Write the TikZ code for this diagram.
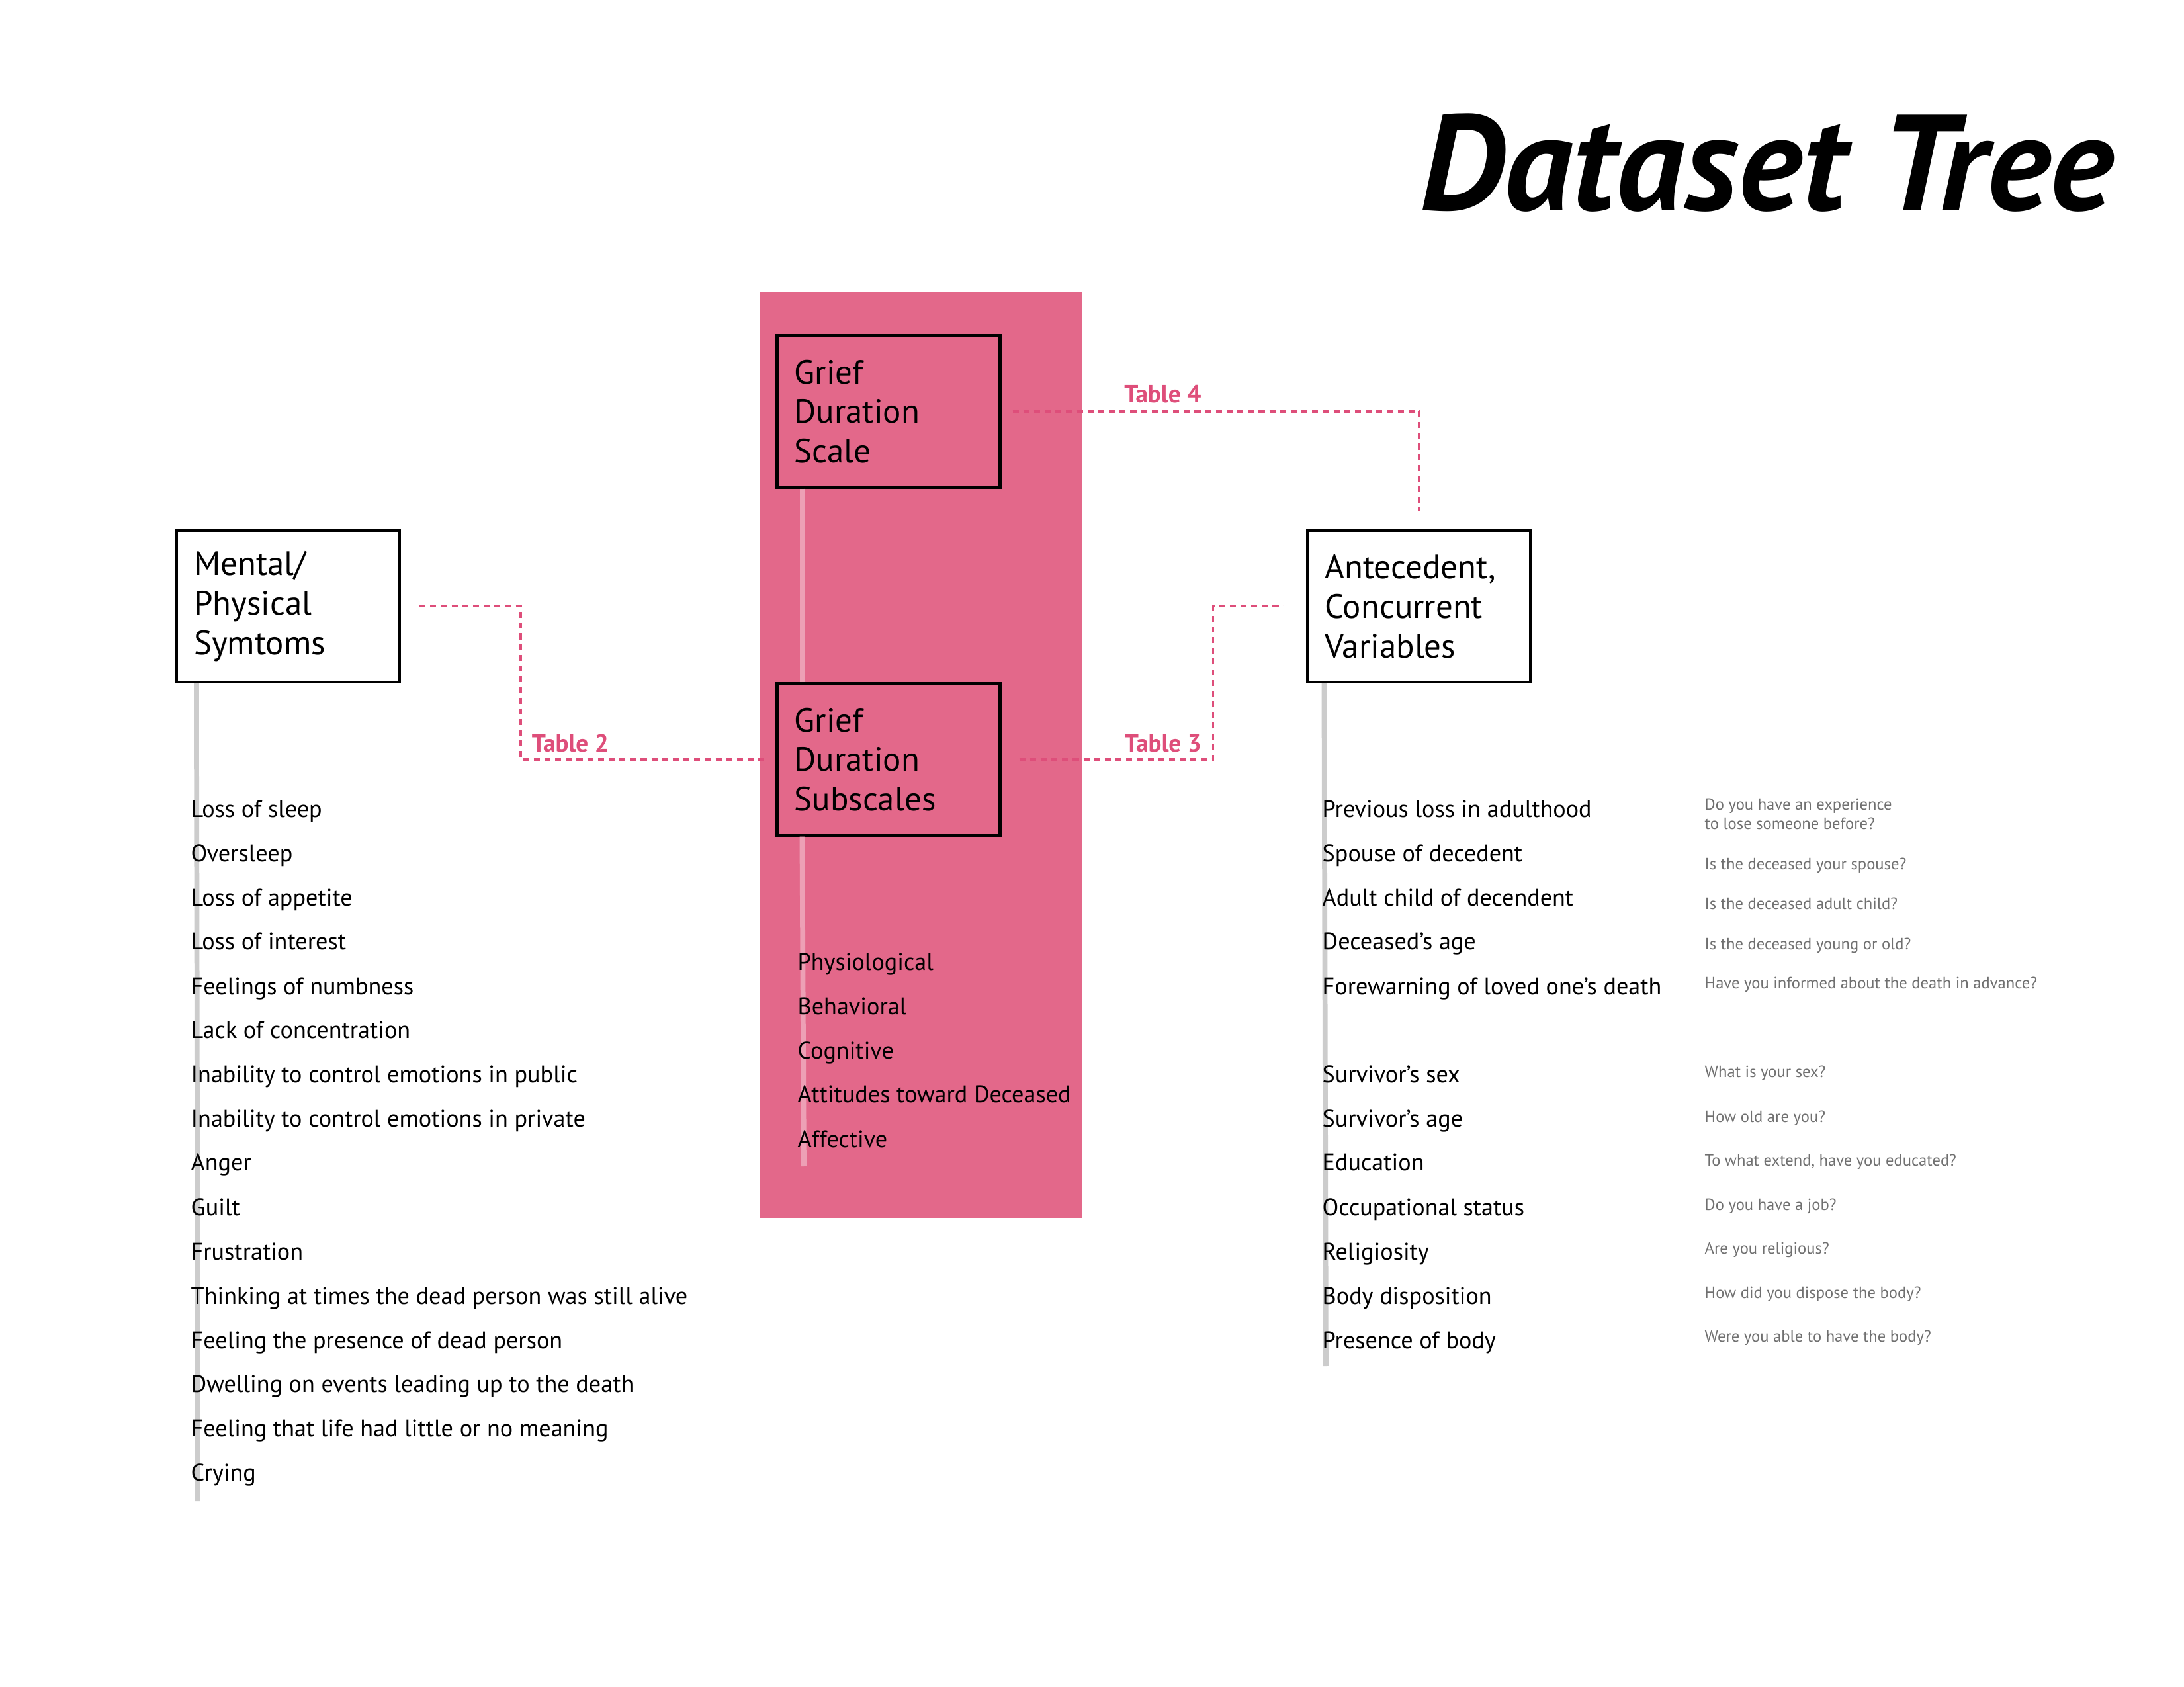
\documentclass[tikz,border=0pt]{standalone}
\usepackage{fontspec}
\setmainfont{PT Sans}
\usepackage{tikz}

\definecolor{panelpink}{RGB}{227,104,138}
\definecolor{linkpink}{RGB}{222,78,122}
\definecolor{trunkgray}{RGB}{204,204,204}
\definecolor{trunkpink}{RGB}{237,160,181}
\definecolor{qgray}{RGB}{112,112,112}

\begin{document}
\begin{tikzpicture}[
    groupbox/.style={
        draw, line width=1.2pt, minimum width=3.37cm, minimum height=2.29cm,
        text width=2.85cm, inner xsep=0.26cm, align=left,
        font=\fontsize{14.5}{17}\selectfont
    },
    item/.style={anchor=base west, inner sep=0pt, font=\fontsize{10.3}{12}\selectfont},
    question/.style={anchor=base west, inner sep=0pt, text=qgray, align=left,
        font=\fontsize{7}{8.3}\selectfont},
    tablelink/.style={draw=linkpink, line width=0.95pt, dash pattern=on 2.6pt off 2pt},
    tablelabel/.style={text=linkpink, inner sep=0pt, font=\bfseries\fontsize{10.6}{12}\selectfont},
    trunk/.style={draw=trunkgray, line width=2.2pt}
]

\useasboundingbox (0,0) rectangle (33.01,-25.50);

% Title
\node[font=\bfseries\itshape\fontsize{58.4}{66}\selectfont, anchor=base east, inner sep=0pt]
    (title) at (31.95,-3.18) {Dataset Tree};

% -------------------------
% Grief Duration panel (pink backdrop)
% -------------------------
\node[fill=panelpink, minimum width=4.87cm, minimum height=14.0cm, inner sep=0pt,
    anchor=north west] (panel) at (11.47,-4.40) {};

% -------------------------
% Group boxes
% -------------------------

% 1. Grief Duration Scale (top, in panel)
\node[groupbox] (scale) at (13.43,-6.22) {Grief\\Duration\\Scale};

% 2. Grief Duration Subscales (in panel)
\node[groupbox] (subscales) at (13.43,-11.48) {Grief\\Duration\\Subscales};

% 3. Mental / Physical Symtoms (left)
\node[groupbox] (symptoms) at (4.355,-9.165) {Mental/\\Physical\\Symtoms};

% 4. Antecedent, Concurrent Variables (right)
\node[groupbox] (antecedent) at (21.45,-9.165) {Antecedent,\\Concurrent\\Variables};

% -------------------------
% Tree trunks
% -------------------------
\coordinate (symend) at (2.99,-22.69);
\coordinate (subend) at (12.15,-17.63);
\coordinate (anteend) at (20.04,-20.65);

\draw[trunk] ([xshift=0.32cm]symptoms.south west) -- (symend);
\draw[trunk, draw=trunkpink] ([xshift=0.40cm]scale.south west) -- ([xshift=0.40cm]subscales.north west);
\draw[trunk, draw=trunkpink] ([xshift=0.40cm]subscales.south west) -- (subend);
\draw[trunk] ([xshift=0.27cm]antecedent.south west) -- (anteend);

% -------------------------
% Symptom list (left)
% -------------------------
\node[item] (sym1)  at (2.88,-12.36) {Loss of sleep};
\node[item] (sym2)  at (2.88,-13.03) {Oversleep};
\node[item] (sym3)  at (2.88,-13.70) {Loss of appetite};
\node[item] (sym4)  at (2.88,-14.36) {Loss of interest};
\node[item] (sym5)  at (2.88,-15.03) {Feelings of numbness};
\node[item] (sym6)  at (2.88,-15.70) {Lack of concentration};
\node[item] (sym7)  at (2.88,-16.37) {Inability to control emotions in public};
\node[item] (sym8)  at (2.88,-17.04) {Inability to control emotions in private};
\node[item] (sym9)  at (2.88,-17.70) {Anger};
\node[item] (sym10) at (2.88,-18.37) {Guilt};
\node[item] (sym11) at (2.88,-19.04) {Frustration};
\node[item] (sym12) at (2.88,-19.71) {Thinking at times the dead person was still alive};
\node[item] (sym13) at (2.88,-20.38) {Feeling the presence of dead person};
\node[item] (sym14) at (2.88,-21.04) {Dwelling on events leading up to the death};
\node[item] (sym15) at (2.88,-21.71) {Feeling that life had little or no meaning};
\node[item] (sym16) at (2.88,-22.38) {Crying};

% -------------------------
% Subscales (in panel)
% -------------------------
\node[item] (sub1) at (12.05,-14.67) {Physiological};
\node[item] (sub2) at (12.05,-15.34) {Behavioral};
\node[item] (sub3) at (12.05,-16.01) {Cognitive};
\node[item] (sub4) at (12.05,-16.67) {Attitudes toward Deceased};
\node[item] (sub5) at (12.05,-17.34) {Affective};

% -------------------------
% Variables (right) and their questions
% -------------------------
\node[item] (ante1)  at (19.98,-12.36) {Previous loss in adulthood};
\node[item] (ante2)  at (19.98,-13.03) {Spouse of decedent};
\node[item] (ante3)  at (19.98,-13.70) {Adult child of decendent};
\node[item] (ante4)  at (19.98,-14.36) {Deceased’s age};
\node[item] (ante5)  at (19.98,-15.03) {Forewarning of loved one’s death};
\node[item] (ante6)  at (19.98,-16.37) {Survivor’s sex};
\node[item] (ante7)  at (19.98,-17.04) {Survivor’s age};
\node[item] (ante8)  at (19.98,-17.70) {Education};
\node[item] (ante9)  at (19.98,-18.37) {Occupational status};
\node[item] (ante10) at (19.98,-19.04) {Religiosity};
\node[item] (ante11) at (19.98,-19.71) {Body disposition};
\node[item] (ante12) at (19.98,-20.38) {Presence of body};

\node[question] (q1)  at (25.76,-12.54) {Do you have an experience\\to lose someone before?};
\node[question] (q2)  at (25.76,-13.15) {Is the deceased your spouse?};
\node[question] (q3)  at (25.76,-13.75) {Is the deceased adult child?};
\node[question] (q4)  at (25.76,-14.36) {Is the deceased young or old?};
\node[question] (q5)  at (25.76,-14.95) {Have you informed about the death in advance?};
\node[question] (q6)  at (25.76,-16.29) {What is your sex?};
\node[question] (q7)  at (25.76,-16.96) {How old are you?};
\node[question] (q8)  at (25.76,-17.62) {To what extend, have you educated?};
\node[question] (q9)  at (25.76,-18.29) {Do you have a job?};
\node[question] (q10) at (25.76,-18.95) {Are you religious?};
\node[question] (q11) at (25.76,-19.62) {How did you dispose the body?};
\node[question] (q12) at (25.76,-20.28) {Were you able to have the body?};

% -------------------------
% Table links (dashed)
% -------------------------

% symptoms -> subscales
\draw[tablelink, shorten <=0.28cm, shorten >=0.17cm] (symptoms.east) -- ++(1.81,0)
    |- node[tablelabel, pos=0.5, anchor=base west, xshift=0.15cm, yshift=0.11cm] (t2label) {Table 2}
    (subscales.west);

% subscales -> antecedent
\draw[tablelink, shorten <=0.27cm, shorten >=0.33cm] (subscales.east)
    -- node[tablelabel, pos=1, anchor=base east, xshift=-0.16cm, yshift=0.11cm] (t3label) {Table 3}
    ++(3.2,0) |- (antecedent.west);

% scale -> antecedent
\draw[tablelink, shorten <=0.17cm, shorten >=0.27cm] (scale.east)
    -| node[tablelabel, pos=0.193, anchor=base, yshift=0.13cm] (t4label) {Table 4}
    (antecedent.north);

\end{tikzpicture}
\end{document}
